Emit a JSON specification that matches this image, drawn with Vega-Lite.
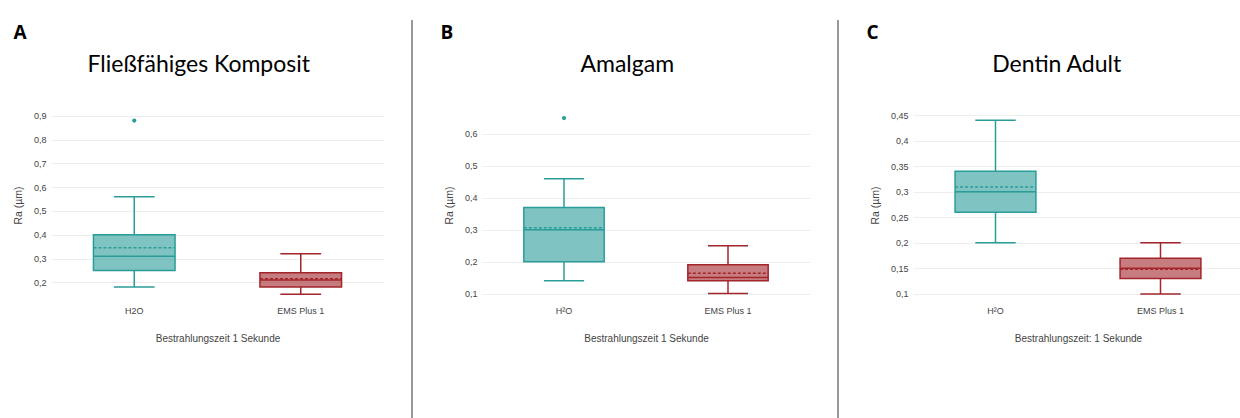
{
  "$schema": "https://vega.github.io/schema/vega-lite/v6.json",
  "padding": {"left": 13, "top": 17, "right": 0, "bottom": 0},
  "background": "white",
  "spacing": 25,
  "align": "none",
  "config": {
    "view": {"stroke": null},
    "font": "Liberation Sans",
    "axisY": {"grid": true, "gridColor": "#eeeeee", "gridWidth": 1, "domain": false, "ticks": false, "labelOverlap": false, "labelFont": "Liberation Sans", "labelFontSize": 9, "labelColor": "#444", "labelPadding": 5, "titleFont": "Liberation Sans", "titleFontSize": 10.5, "titleFontWeight": "normal", "titleColor": "#444", "titlePadding": 10, "labelExpr": "replace(format(datum.value, '.2~f'), '.', ',')"},
    "axisX": {"grid": false, "domain": false, "ticks": false, "labelAngle": 0, "labelFont": "Liberation Sans", "labelFontSize": 9, "labelColor": "#444", "labelPadding": 7, "titleFont": "Liberation Sans", "titleFontSize": 10, "titleFontWeight": "normal", "titleColor": "#444", "titlePadding": 18}
  },
  "hconcat": [
    {
      "spacing": 0,
      "vconcat": [
        {"width": 1, "height": 1, "data": {"values": [{"d": 1}]}, "mark": {"type": "point", "opacity": 0}, "encoding": {}},
        {
          "title": {"text": "A", "anchor": "start", "font": "Open Sans", "fontSize": 19, "fontWeight": "bold", "color": "#000", "offset": 11},
          "vconcat": [
            {
              "title": {"text": "Fließfähiges Komposit", "frame": "bounds", "anchor": "middle", "font": "Lato", "fontSize": 23, "fontWeight": "normal", "color": "#000", "offset": 34},
              "width": 333, "height": 188,
              "data": {"values": [
                {"group": "H2O", "kind": "w", "lo": 0.18, "q1": 0.25, "med": 0.31, "mean": 0.345, "q3": 0.40, "hi": 0.56, "out": 0.88},
                {"group": "EMS Plus 1", "kind": "e", "lo": 0.15, "q1": 0.18, "med": 0.21, "mean": 0.215, "q3": 0.24, "hi": 0.32, "out": null}
              ]},
              "encoding": {
                "color": {"field": "kind", "type": "nominal", "scale": {"domain": ["w", "e"], "range": ["#2a9d99", "#a2252a"]}, "legend": null}
              },
              "layer": [
                {"mark": {"type": "rule", "strokeWidth": 1.5}, "encoding": {"x": {"field": "group", "type": "nominal", "sort": null, "bandPosition": 0.5, "scale": {"paddingInner": 0.51, "paddingOuter": 0.255}, "axis": {"title": "Bestrahlungszeit 1 Sekunde"}}, "y": {"field": "q3", "type": "quantitative", "title": "Ra (µm)", "scale": {"domain": [0.13, 0.92], "nice": false, "zero": false}, "axis": {"values": [0.2, 0.3, 0.4, 0.5, 0.6, 0.7, 0.8, 0.9]}}, "y2": {"field": "hi"}}},
                {"mark": {"type": "rule", "strokeWidth": 1.5}, "encoding": {"x": {"field": "group", "type": "nominal", "sort": null, "bandPosition": 0.5}, "y": {"field": "lo", "type": "quantitative", "title": "Ra (µm)", "axis": {"values": [0.2, 0.3, 0.4, 0.5, 0.6, 0.7, 0.8, 0.9]}}, "y2": {"field": "q1"}}},
                {"mark": {"type": "rule", "strokeWidth": 1.5}, "encoding": {"x": {"field": "group", "type": "nominal", "sort": null, "bandPosition": 0.25}, "x2": {"field": "group", "bandPosition": 0.75}, "y": {"field": "hi", "type": "quantitative", "title": "Ra (µm)", "axis": {"values": [0.2, 0.3, 0.4, 0.5, 0.6, 0.7, 0.8, 0.9]}}}},
                {"mark": {"type": "rule", "strokeWidth": 1.5}, "encoding": {"x": {"field": "group", "type": "nominal", "sort": null, "bandPosition": 0.25}, "x2": {"field": "group", "bandPosition": 0.75}, "y": {"field": "lo", "type": "quantitative", "title": "Ra (µm)", "axis": {"values": [0.2, 0.3, 0.4, 0.5, 0.6, 0.7, 0.8, 0.9]}}}},
                {"mark": {"type": "bar", "fillOpacity": 0.6, "strokeWidth": 1.5}, "encoding": {"x": {"field": "group", "type": "nominal", "sort": null}, "y": {"field": "q1", "type": "quantitative", "title": "Ra (µm)", "axis": {"values": [0.2, 0.3, 0.4, 0.5, 0.6, 0.7, 0.8, 0.9]}}, "y2": {"field": "q3"}, "stroke": {"field": "kind", "type": "nominal", "scale": {"domain": ["w", "e"], "range": ["#2a9d99", "#a2252a"]}, "legend": null}}},
                {"mark": {"type": "rule", "strokeWidth": 1.5}, "encoding": {"x": {"field": "group", "type": "nominal", "sort": null, "bandPosition": 0}, "x2": {"field": "group", "bandPosition": 1}, "y": {"field": "med", "type": "quantitative", "title": "Ra (µm)", "axis": {"values": [0.2, 0.3, 0.4, 0.5, 0.6, 0.7, 0.8, 0.9]}}}},
                {"mark": {"type": "rule", "strokeWidth": 1.5, "strokeDash": [3, 2]}, "encoding": {"x": {"field": "group", "type": "nominal", "sort": null, "bandPosition": 0}, "x2": {"field": "group", "bandPosition": 1}, "y": {"field": "mean", "type": "quantitative", "title": "Ra (µm)", "axis": {"values": [0.2, 0.3, 0.4, 0.5, 0.6, 0.7, 0.8, 0.9]}}}},
                {"mark": {"type": "point", "filled": true, "size": 18, "opacity": 1}, "encoding": {"x": {"field": "group", "type": "nominal", "sort": null}, "y": {"field": "out", "type": "quantitative", "title": "Ra (µm)", "axis": {"values": [0.2, 0.3, 0.4, 0.5, 0.6, 0.7, 0.8, 0.9]}}}}
              ]
            }
          ]
        }
      ]
    },
    {
      "width": 2, "height": 402,
      "view": {"fill": "#9a9a9a", "stroke": null},
      "data": {"values": [{"d": 1}]},
      "mark": {"type": "point", "opacity": 0},
      "encoding": {}
    },
    {
      "spacing": 0,
      "vconcat": [
        {"width": 1, "height": 1, "data": {"values": [{"d": 1}]}, "mark": {"type": "point", "opacity": 0}, "encoding": {}},
        {
          "title": {"text": "B", "anchor": "start", "font": "Open Sans", "fontSize": 19, "fontWeight": "bold", "color": "#000", "offset": 11, "dx": -4},
          "vconcat": [
            {
              "title": {"text": "Amalgam", "frame": "bounds", "anchor": "middle", "font": "Lato", "fontSize": 23, "fontWeight": "normal", "color": "#000", "offset": 34},
              "width": 328, "height": 188,
              "data": {"values": [
                {"group": "H²O", "kind": "w", "lo": 0.14, "q1": 0.20, "med": 0.30, "mean": 0.306, "q3": 0.37, "hi": 0.46, "out": 0.65},
                {"group": "EMS Plus 1", "kind": "e", "lo": 0.10, "q1": 0.14, "med": 0.15, "mean": 0.164, "q3": 0.19, "hi": 0.25, "out": null}
              ]},
              "encoding": {
                "color": {"field": "kind", "type": "nominal", "scale": {"domain": ["w", "e"], "range": ["#2a9d99", "#a2252a"]}, "legend": null}
              },
              "layer": [
                {"mark": {"type": "rule", "strokeWidth": 1.5}, "encoding": {"x": {"field": "group", "type": "nominal", "sort": null, "bandPosition": 0.5, "scale": {"paddingInner": 0.51, "paddingOuter": 0.255}, "axis": {"title": "Bestrahlungszeit 1 Sekunde"}}, "y": {"field": "q3", "type": "quantitative", "title": "Ra (µm)", "scale": {"domain": [0.083, 0.672], "nice": false, "zero": false}, "axis": {"values": [0.1, 0.2, 0.3, 0.4, 0.5, 0.6]}}, "y2": {"field": "hi"}}},
                {"mark": {"type": "rule", "strokeWidth": 1.5}, "encoding": {"x": {"field": "group", "type": "nominal", "sort": null, "bandPosition": 0.5}, "y": {"field": "lo", "type": "quantitative", "title": "Ra (µm)", "axis": {"values": [0.1, 0.2, 0.3, 0.4, 0.5, 0.6]}}, "y2": {"field": "q1"}}},
                {"mark": {"type": "rule", "strokeWidth": 1.5}, "encoding": {"x": {"field": "group", "type": "nominal", "sort": null, "bandPosition": 0.25}, "x2": {"field": "group", "bandPosition": 0.75}, "y": {"field": "hi", "type": "quantitative", "title": "Ra (µm)", "axis": {"values": [0.1, 0.2, 0.3, 0.4, 0.5, 0.6]}}}},
                {"mark": {"type": "rule", "strokeWidth": 1.5}, "encoding": {"x": {"field": "group", "type": "nominal", "sort": null, "bandPosition": 0.25}, "x2": {"field": "group", "bandPosition": 0.75}, "y": {"field": "lo", "type": "quantitative", "title": "Ra (µm)", "axis": {"values": [0.1, 0.2, 0.3, 0.4, 0.5, 0.6]}}}},
                {"mark": {"type": "bar", "fillOpacity": 0.6, "strokeWidth": 1.5}, "encoding": {"x": {"field": "group", "type": "nominal", "sort": null}, "y": {"field": "q1", "type": "quantitative", "title": "Ra (µm)", "axis": {"values": [0.1, 0.2, 0.3, 0.4, 0.5, 0.6]}}, "y2": {"field": "q3"}, "stroke": {"field": "kind", "type": "nominal", "scale": {"domain": ["w", "e"], "range": ["#2a9d99", "#a2252a"]}, "legend": null}}},
                {"mark": {"type": "rule", "strokeWidth": 1.5}, "encoding": {"x": {"field": "group", "type": "nominal", "sort": null, "bandPosition": 0}, "x2": {"field": "group", "bandPosition": 1}, "y": {"field": "med", "type": "quantitative", "title": "Ra (µm)", "axis": {"values": [0.1, 0.2, 0.3, 0.4, 0.5, 0.6]}}}},
                {"mark": {"type": "rule", "strokeWidth": 1.5, "strokeDash": [3, 2]}, "encoding": {"x": {"field": "group", "type": "nominal", "sort": null, "bandPosition": 0}, "x2": {"field": "group", "bandPosition": 1}, "y": {"field": "mean", "type": "quantitative", "title": "Ra (µm)", "axis": {"values": [0.1, 0.2, 0.3, 0.4, 0.5, 0.6]}}}},
                {"mark": {"type": "point", "filled": true, "size": 18, "opacity": 1}, "encoding": {"x": {"field": "group", "type": "nominal", "sort": null}, "y": {"field": "out", "type": "quantitative", "title": "Ra (µm)", "axis": {"values": [0.1, 0.2, 0.3, 0.4, 0.5, 0.6]}}}}
              ]
            }
          ]
        }
      ]
    },
    {
      "width": 2, "height": 402,
      "view": {"fill": "#9a9a9a", "stroke": null},
      "data": {"values": [{"d": 1}]},
      "mark": {"type": "point", "opacity": 0},
      "encoding": {}
    },
    {
      "spacing": 0,
      "vconcat": [
        {"width": 1, "height": 1, "data": {"values": [{"d": 1}]}, "mark": {"type": "point", "opacity": 0}, "encoding": {}},
        {
          "title": {"text": "C", "anchor": "start", "font": "Open Sans", "fontSize": 19, "fontWeight": "bold", "color": "#000", "offset": 11, "dx": -4},
          "vconcat": [
            {
              "title": {"text": "Dentin Adult", "frame": "bounds", "anchor": "middle", "font": "Lato", "fontSize": 23, "fontWeight": "normal", "color": "#000", "offset": 34},
              "width": 330, "height": 188,
              "data": {"values": [
                {"group": "H²O", "kind": "w", "lo": 0.20, "q1": 0.26, "med": 0.30, "mean": 0.309, "q3": 0.34, "hi": 0.44, "out": null},
                {"group": "EMS Plus 1", "kind": "e", "lo": 0.10, "q1": 0.13, "med": 0.15, "mean": 0.148, "q3": 0.17, "hi": 0.20, "out": null}
              ]},
              "encoding": {
                "color": {"field": "kind", "type": "nominal", "scale": {"domain": ["w", "e"], "range": ["#2a9d99", "#a2252a"]}, "legend": null}
              },
              "layer": [
                {"mark": {"type": "rule", "strokeWidth": 1.5}, "encoding": {"x": {"field": "group", "type": "nominal", "sort": null, "bandPosition": 0.5, "scale": {"paddingInner": 0.51, "paddingOuter": 0.255}, "axis": {"title": "Bestrahlungszeit: 1 Sekunde"}}, "y": {"field": "q3", "type": "quantitative", "title": "Ra (µm)", "scale": {"domain": [0.09, 0.458], "nice": false, "zero": false}, "axis": {"values": [0.1, 0.15, 0.2, 0.25, 0.3, 0.35, 0.4, 0.45]}}, "y2": {"field": "hi"}}},
                {"mark": {"type": "rule", "strokeWidth": 1.5}, "encoding": {"x": {"field": "group", "type": "nominal", "sort": null, "bandPosition": 0.5}, "y": {"field": "lo", "type": "quantitative", "title": "Ra (µm)", "axis": {"values": [0.1, 0.15, 0.2, 0.25, 0.3, 0.35, 0.4, 0.45]}}, "y2": {"field": "q1"}}},
                {"mark": {"type": "rule", "strokeWidth": 1.5}, "encoding": {"x": {"field": "group", "type": "nominal", "sort": null, "bandPosition": 0.25}, "x2": {"field": "group", "bandPosition": 0.75}, "y": {"field": "hi", "type": "quantitative", "title": "Ra (µm)", "axis": {"values": [0.1, 0.15, 0.2, 0.25, 0.3, 0.35, 0.4, 0.45]}}}},
                {"mark": {"type": "rule", "strokeWidth": 1.5}, "encoding": {"x": {"field": "group", "type": "nominal", "sort": null, "bandPosition": 0.25}, "x2": {"field": "group", "bandPosition": 0.75}, "y": {"field": "lo", "type": "quantitative", "title": "Ra (µm)", "axis": {"values": [0.1, 0.15, 0.2, 0.25, 0.3, 0.35, 0.4, 0.45]}}}},
                {"mark": {"type": "bar", "fillOpacity": 0.6, "strokeWidth": 1.5}, "encoding": {"x": {"field": "group", "type": "nominal", "sort": null}, "y": {"field": "q1", "type": "quantitative", "title": "Ra (µm)", "axis": {"values": [0.1, 0.15, 0.2, 0.25, 0.3, 0.35, 0.4, 0.45]}}, "y2": {"field": "q3"}, "stroke": {"field": "kind", "type": "nominal", "scale": {"domain": ["w", "e"], "range": ["#2a9d99", "#a2252a"]}, "legend": null}}},
                {"mark": {"type": "rule", "strokeWidth": 1.5}, "encoding": {"x": {"field": "group", "type": "nominal", "sort": null, "bandPosition": 0}, "x2": {"field": "group", "bandPosition": 1}, "y": {"field": "med", "type": "quantitative", "title": "Ra (µm)", "axis": {"values": [0.1, 0.15, 0.2, 0.25, 0.3, 0.35, 0.4, 0.45]}}}},
                {"mark": {"type": "rule", "strokeWidth": 1.5, "strokeDash": [3, 2]}, "encoding": {"x": {"field": "group", "type": "nominal", "sort": null, "bandPosition": 0}, "x2": {"field": "group", "bandPosition": 1}, "y": {"field": "mean", "type": "quantitative", "title": "Ra (µm)", "axis": {"values": [0.1, 0.15, 0.2, 0.25, 0.3, 0.35, 0.4, 0.45]}}}}
              ]
            }
          ]
        }
      ]
    }
  ]
}
